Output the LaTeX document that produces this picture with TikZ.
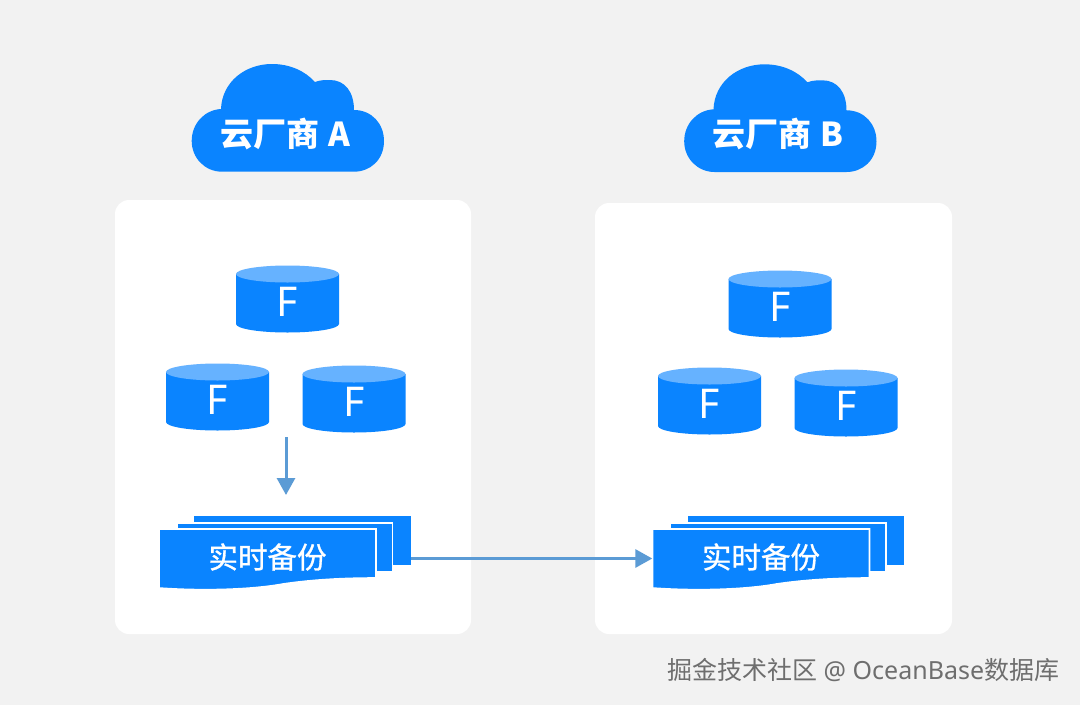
\documentclass[tikz,border=0pt]{standalone}
\usepackage{fontspec}
\usetikzlibrary{arrows.meta}
\setmainfont{Noto Sans}
\newfontfamily\cjk{Noto Sans CJK SC}
\newfontfamily\cjkm[FakeBold=1]{Noto Sans CJK SC}
\definecolor{bgc}{HTML}{F2F2F2}
\definecolor{bluec}{HTML}{0A84FF}
\definecolor{lightc}{HTML}{66B2FF}
\definecolor{arrowc}{HTML}{5B9BD5}
\definecolor{markc}{HTML}{6E6E6E}
\tikzset{
  panel/.style={fill=white,rounded corners=14pt},
  cloudshape/.style={fill=bluec},
  cloudlabel/.style={text=white,inner sep=0pt,font=\fontsize{33}{35}\selectfont\bfseries\cjk},
  cylbody/.style={fill=bluec},
  cyltop/.style={fill=lightc},
  cyllabel/.style={text=white,inner sep=0pt,font=\fontsize{41}{44}\selectfont},
  layer/.style={fill=bluec,draw=white,line width=1.6pt,line join=miter},
  stacklabel/.style={text=white,inner sep=0pt,font=\fontsize{29.5}{32}\selectfont\cjkm},
  anchorbox/.style={inner sep=0pt,minimum width=217pt,minimum height=59pt},
  flow/.style={draw=arrowc,line width=3pt,-{Triangle[length=17pt,width=18pt]}}
}
\newcommand{\mycloud}[4]{% name, dx, dy, text
  \begin{scope}[shift={(#2,#3)}]
    \path[cloudshape] (221,109) .. controls (222,82) and (245,64) .. (272,64)
      .. controls (290,64) and (305,71) .. (315,82)
      .. controls (320,80) and (325,80) .. (330,80)
      .. controls (345,80) and (354,92) .. (354,110)
      .. controls (372,110) and (384,124) .. (384,141)
      .. controls (384,160) and (370,171.7) .. (354,171.7)
      -- (222,171.7)
      .. controls (205,171.7) and (191.7,158) .. (191.7,141)
      .. controls (191.7,124) and (204,110) .. (221,109) -- cycle;
    \node[cloudlabel] (#1) at (285,134) {#4};
  \end{scope}}
\newcommand{\mycyl}[3]{% name, cx, top centre y
  \begin{scope}[shift={(#2,#3)}]
    \path[cylbody] (-51.5,0) -- (-51.5,50) arc[start angle=180,end angle=0,x radius=51.5,y radius=8.5]
       -- (51.5,0) -- cycle;
    \path[cyltop] (0,0) ellipse[x radius=51.5,y radius=8.5];
    \node[cyllabel] (#1) at (0,28) {F};
  \end{scope}}
\newcommand{\mystack}[3]{% suffix, dx, dy
  \begin{scope}[shift={(#2,#3)}]
    \path[fill=bluec] (194,516) -- (410.5,516) -- (410.5,565) -- (194,565) -- cycle;
    \path[layer] (177,523) -- (392.5,523) -- (392.5,572) -- (177,572) -- cycle;
    \path[layer] (159,529) -- (376,529) -- (376,578)
       .. controls (340,578) and (310,580) .. (283,584)
       .. controls (250,590) and (200,591) .. (159,588) -- cycle;
    \node[anchorbox] (front#1) at (267.5,558.5) {};
    \node[stacklabel] (text#1) at (267.5,557) {实时备份};
    \coordinate (backedge#1) at (410.5,558.5);
  \end{scope}}
\begin{document}
\begin{tikzpicture}[x=1pt,y=-1pt]
  \useasboundingbox (0,0) rectangle (1080,705);
  \path[fill=bgc] (0,0) rectangle (1080,705);
  \path[panel] (115,200) rectangle (471,634);
  \path[panel] (595,203) rectangle (952,634);
  \mycloud{cloudA}{0}{0}{云厂商\hspace{9pt}A}
  \mycloud{cloudB}{492.5}{0.3}{云厂商\hspace{9pt}B}
  \mycyl{fa1}{287.5}{274}
  \mycyl{fa2}{217.5}{372}
  \mycyl{fa3}{354}{374}
  \mycyl{fb1}{780}{279}
  \mycyl{fb2}{709.5}{376}
  \mycyl{fb3}{846}{378}
  \mystack{A}{0}{0}
  \mystack{B}{493.5}{0}
  \coordinate (downstart) at (286,437);
  \coordinate (downend) at (286,495);
  \draw[flow] (downstart) -- (downend);
  \draw[flow] (backedgeA) -- (frontB.west);
  \node[inner sep=0pt,text=markc,anchor=west,font=\fontsize{25}{27}\selectfont] (wm) at (667,670)
     {{\cjk 掘金技术社区} @ OceanBase{\cjk 数据库}};
\end{tikzpicture}
\end{document}
